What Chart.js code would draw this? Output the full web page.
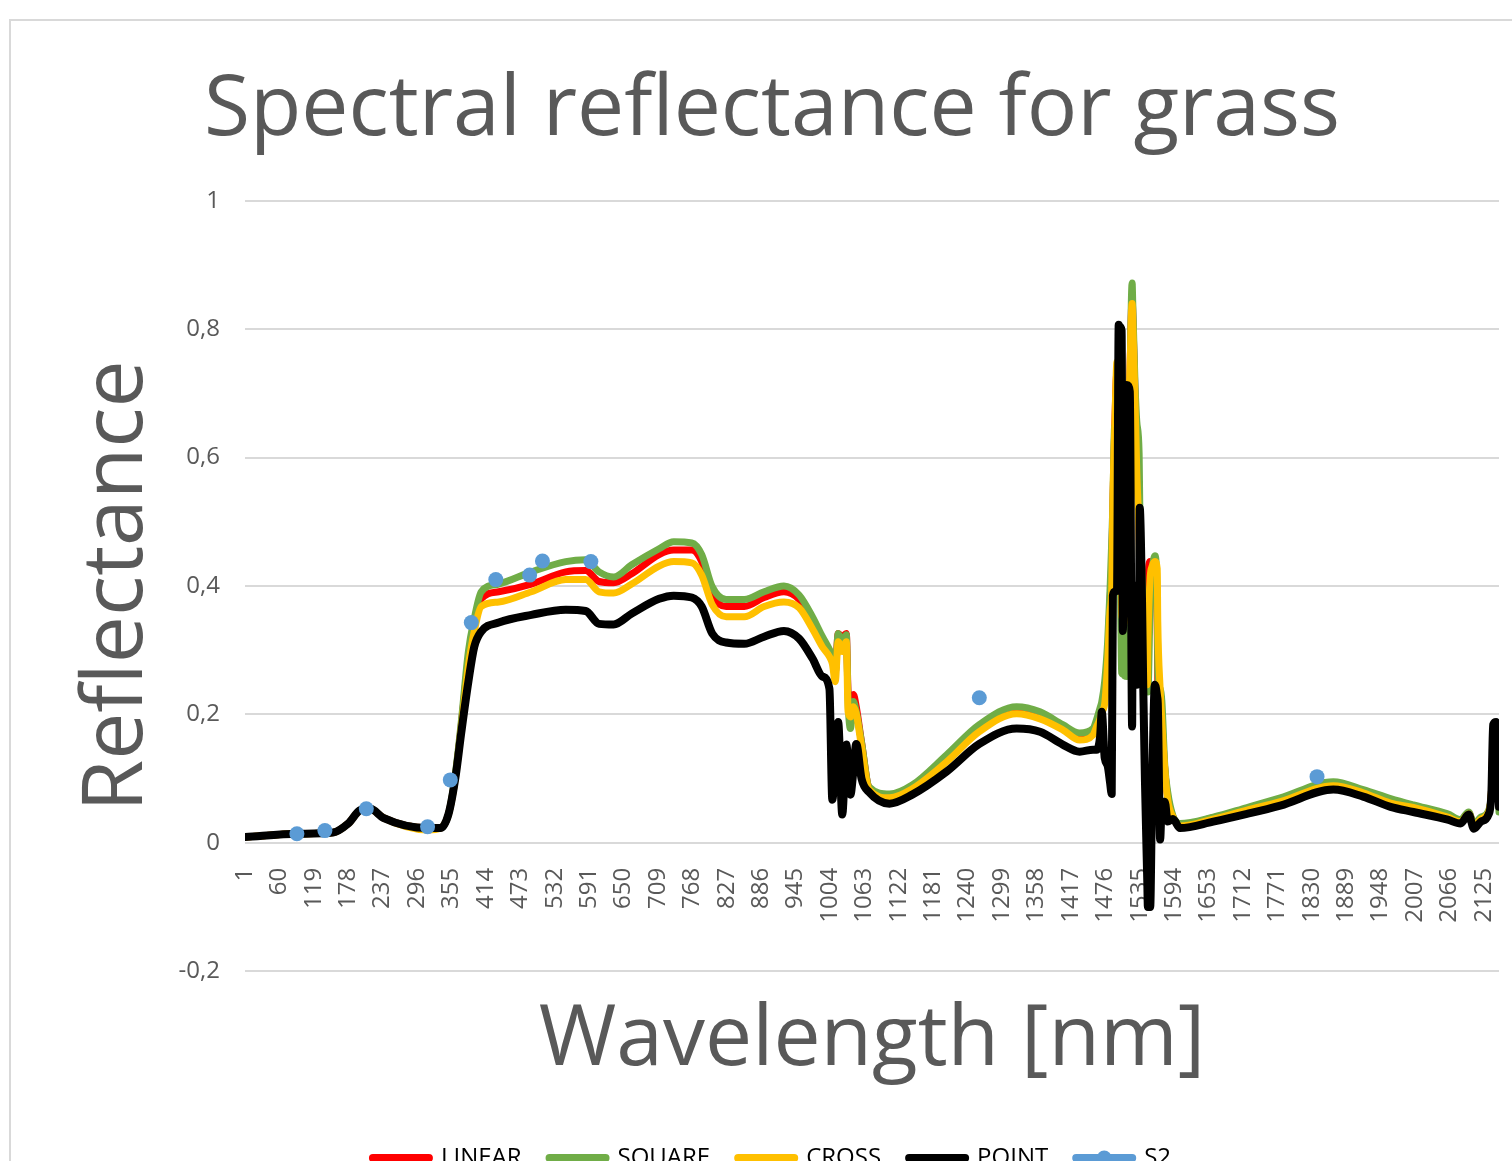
<!DOCTYPE html>
<html>
<head>
<meta charset="utf-8">
<title>Spectral reflectance for grass</title>
<script src="https://cdn.jsdelivr.net/npm/chart.js@4.4.1/dist/chart.umd.min.js"></script>
<style>
  html, body { margin: 0; padding: 0; background: #fff; overflow: hidden; width: 1512px; height: 1161px; }
  #frame { position: absolute; left: 9px; top: 19px; border: 2px solid #d9d9d9; background: #fff; }
  #chart { display: block; }
</style>
</head>
<body>
<div id="frame"><canvas id="chart" width="1522" height="1159"></canvas></div>
<script>
// Channel index of every sampled point (same for the four simulated spectra)
const bands = [
  1, 92, 152, 178, 199, 216, 238, 315, 336, 350,
  362, 372, 384, 394, 406, 436, 492, 551, 585, 608,
  633, 664, 711, 736, 767, 784, 802, 826, 857, 891,
  925, 951, 974, 991, 1003, 1008, 1013, 1018, 1025, 1032,
  1035, 1039, 1044, 1049, 1058, 1071, 1106, 1145, 1204, 1260,
  1324, 1364, 1403, 1432, 1455, 1461, 1467, 1470, 1475, 1480,
  1484, 1487, 1489, 1492, 1496, 1499, 1501, 1504, 1506, 1509,
  1513, 1518, 1522, 1523, 1527, 1530, 1534, 1535, 1539, 1541,
  1544, 1548, 1549, 1553, 1556, 1561, 1565, 1566, 1570, 1573,
  1578, 1583, 1592, 1604, 1661, 1719, 1776, 1867, 1918, 1965,
  2004, 2063, 2085, 2099, 2108, 2120, 2133, 2138, 2141, 2146,
  2151,
]

const linear = [
  0.009, 0.014, 0.016, 0.030, 0.051, 0.053, 0.039, 0.023, 0.023, 0.045,
  0.105, 0.185, 0.285, 0.336, 0.380, 0.391, 0.403, 0.422, 0.424, 0.407,
  0.405, 0.419, 0.449, 0.456, 0.456, 0.438, 0.386, 0.368, 0.368, 0.382,
  0.391, 0.379, 0.344, 0.313, 0.298, 0.285, 0.266, 0.326, 0.321, 0.326,
  0.235, 0.220, 0.231, 0.212, 0.157, 0.086, 0.073, 0.087, 0.132, 0.179,
  0.207, 0.199, 0.181, 0.167, 0.172, 0.185, 0.201, 0.212, 0.235, 0.282,
  0.375, 0.436, 0.523, 0.640, 0.734, 0.687, 0.656, 0.375, 0.360, 0.343,
  0.609, 0.726, 0.850, 0.827, 0.695, 0.593, 0.500, 0.438, 0.344, 0.313,
  0.266, 0.246, 0.407, 0.438, 0.430, 0.430, 0.344, 0.251, 0.220, 0.188,
  0.114, 0.072, 0.040, 0.028, 0.039, 0.053, 0.067, 0.092, 0.080, 0.065,
  0.056, 0.042, 0.034, 0.047, 0.028, 0.039, 0.048, 0.079, 0.157, 0.134,
  0.064,
]

const square = [
  0.009, 0.014, 0.016, 0.030, 0.051, 0.053, 0.039, 0.023, 0.023, 0.045,
  0.110, 0.190, 0.298, 0.349, 0.391, 0.403, 0.422, 0.438, 0.441, 0.422,
  0.414, 0.433, 0.458, 0.469, 0.467, 0.449, 0.399, 0.379, 0.379, 0.391,
  0.400, 0.386, 0.352, 0.321, 0.301, 0.290, 0.266, 0.326, 0.313, 0.324,
  0.220, 0.178, 0.220, 0.204, 0.157, 0.087, 0.076, 0.090, 0.137, 0.184,
  0.212, 0.204, 0.184, 0.171, 0.178, 0.192, 0.210, 0.220, 0.252, 0.313,
  0.391, 0.469, 0.528, 0.648, 0.617, 0.593, 0.500, 0.265, 0.263, 0.260,
  0.259, 0.687, 0.872, 0.843, 0.713, 0.656, 0.606, 0.531, 0.414, 0.375,
  0.294, 0.246, 0.235, 0.375, 0.421, 0.447, 0.375, 0.265, 0.240, 0.220,
  0.120, 0.079, 0.042, 0.030, 0.040, 0.055, 0.070, 0.095, 0.083, 0.069,
  0.059, 0.045, 0.036, 0.048, 0.030, 0.040, 0.050, 0.079, 0.150, 0.126,
  0.048,
]

const cross = [
  0.009, 0.014, 0.016, 0.030, 0.051, 0.053, 0.039, 0.020, 0.023, 0.045,
  0.103, 0.180, 0.275, 0.329, 0.368, 0.375, 0.391, 0.410, 0.410, 0.391,
  0.389, 0.403, 0.431, 0.438, 0.436, 0.417, 0.371, 0.352, 0.352, 0.368,
  0.375, 0.366, 0.333, 0.305, 0.290, 0.279, 0.251, 0.313, 0.298, 0.313,
  0.204, 0.196, 0.212, 0.201, 0.150, 0.083, 0.070, 0.084, 0.126, 0.173,
  0.201, 0.193, 0.176, 0.160, 0.168, 0.181, 0.193, 0.204, 0.217, 0.282,
  0.360, 0.396, 0.533, 0.640, 0.749, 0.687, 0.654, 0.355, 0.349, 0.343,
  0.609, 0.726, 0.840, 0.812, 0.687, 0.578, 0.475, 0.422, 0.329, 0.294,
  0.266, 0.246, 0.313, 0.414, 0.430, 0.438, 0.427, 0.344, 0.240, 0.188,
  0.115, 0.067, 0.040, 0.026, 0.037, 0.051, 0.064, 0.089, 0.078, 0.062,
  0.055, 0.040, 0.033, 0.045, 0.026, 0.037, 0.048, 0.079, 0.154, 0.130,
  0.056,
]

const point = [
  0.009, 0.014, 0.016, 0.030, 0.051, 0.053, 0.039, 0.023, 0.023, 0.045,
  0.103, 0.173, 0.251, 0.305, 0.329, 0.343, 0.355, 0.363, 0.361, 0.341,
  0.340, 0.357, 0.380, 0.385, 0.382, 0.368, 0.326, 0.312, 0.310, 0.321,
  0.330, 0.318, 0.287, 0.259, 0.240, 0.067, 0.126, 0.188, 0.044, 0.153,
  0.126, 0.075, 0.111, 0.154, 0.100, 0.079, 0.061, 0.075, 0.111, 0.154,
  0.178, 0.173, 0.153, 0.142, 0.145, 0.145, 0.165, 0.204, 0.132, 0.120,
  0.095, 0.076, 0.385, 0.391, 0.396, 0.807, 0.804, 0.798, 0.330, 0.531,
  0.713, 0.703, 0.181, 0.402, 0.313, 0.246, 0.375, 0.522, 0.375, 0.246,
  0.095, -0.061, -0.100, -0.100, 0.064, 0.246, 0.227, 0.217, 0.005, 0.064,
  0.064, 0.033, 0.037, 0.023, 0.033, 0.045, 0.058, 0.083, 0.072, 0.056,
  0.048, 0.036, 0.030, 0.044, 0.022, 0.033, 0.044, 0.079, 0.184, 0.188,
  0.056,
]

// Sentinel-2 band samples
const s2Bands = [90, 138, 209, 314, 353, 389, 431, 489, 511, 594, 1260, 1839]
const s2Values = [0.014, 0.019, 0.053, 0.025, 0.098, 0.343, 0.410, 0.417, 0.439, 0.438, 0.226, 0.103]

const xTicks = [
  1, 60, 119, 178, 237, 296, 355, 414, 473, 532, 591, 650, 709, 768, 827, 886, 945, 1004, 1063,
  1122, 1181, 1240, 1299, 1358, 1417, 1476, 1535, 1594, 1653, 1712, 1771, 1830, 1889, 1948,
  2007, 2066, 2125,
]
const yTicks = [-0.2, 0, 0.2, 0.4, 0.6, 0.8, 1]

const textColor = "#595959"
const gridColor = "#d9d9d9"
const s2Color = "#5b9bd5"
const legendLine = 56
const legendFont = 24

Chart.defaults.font.family = "'Open Sans', 'Noto Sans', sans-serif"

function toPoints(values) {
  return bands.map((b, i) => ({ x: b, y: values[i] }))
}

function lineSet(label, values, color, width, order) {
  return {
    label,
    data: toPoints(values),
    borderColor: color,
    backgroundColor: color,
    borderWidth: width,
    borderCapStyle: "round",
    borderJoinStyle: "round",
    pointRadius: 0,
    pointHoverRadius: 0,
    cubicInterpolationMode: "monotone",
    fill: false,
    order,
    xAxisID: "x",
    yAxisID: "y",
  }
}

// draws the round marker on the S2 legend line
const legendMarker = {
  id: "legendMarker",
  afterDraw(chart) {
    const legend = chart.legend
    if (!legend || !legend.legendItems) return
    legend.legendItems.forEach((item, i) => {
      if (item.text !== "S2") return
      const box = legend.legendHitBoxes[i]
      const ctx = chart.ctx
      ctx.save()
      ctx.fillStyle = s2Color
      ctx.beginPath()
      ctx.arc(box.left + legendLine / 2, box.top + legendFont / 2, 7.5, 0, Math.PI * 2)
      ctx.fill()
      ctx.restore()
    })
  },
}

new Chart(document.getElementById("chart"), {
  type: "line",
  data: {
    datasets: [
      lineSet("LINEAR", linear, "#ff0000", 7, 4),
      lineSet("SQUARE", square, "#70ad47", 7, 3),
      lineSet("CROSS", cross, "#ffc000", 7, 2),
      lineSet("POINT", point, "#000000", 8, 1),
      {
        label: "S2",
        data: s2Bands.map((b, i) => ({ x: b, y: s2Values[i] })),
        showLine: false,
        borderColor: s2Color,
        backgroundColor: s2Color,
        borderWidth: 7,
        pointStyle: "circle",
        pointRadius: 7.5,
        pointBorderWidth: 0,
        pointHoverRadius: 7.5,
        order: 0,
        xAxisID: "x",
        yAxisID: "y",
      },
    ],
  },
  options: {
    responsive: false,
    devicePixelRatio: 1,
    animation: false,
    events: [],
    layout: { padding: 0 },
    plugins: {
      tooltip: { enabled: false },
      title: {
        display: true,
        text: "Spectral reflectance for grass",
        color: textColor,
        font: { size: 84, weight: "normal" },
        padding: { top: 40, bottom: 39 },
      },
      subtitle: {
        display: true,
        position: "bottom",
        fullSize: false,
        text: "Wavelength [nm]",
        color: textColor,
        font: { size: 84, weight: "normal" },
        padding: { top: 19, bottom: 27 },
      },
      legend: {
        position: "bottom",
        weight: 3000,
        labels: {
          usePointStyle: true,
          pointStyleWidth: legendLine,
          padding: 28,
          color: textColor,
          font: { size: legendFont },
          generateLabels(chart) {
            return chart.data.datasets.map((ds, i) => ({
              text: ds.label,
              datasetIndex: i,
              fillStyle: ds.borderColor,
              strokeStyle: ds.borderColor,
              lineWidth: 8,
              lineCap: "round",
              pointStyle: "line",
              hidden: false,
            }))
          },
        },
      },
    },
    scales: {
      x: {
        type: "linear",
        position: { y: 0 },
        min: 1,
        max: 2151,
        grid: { display: false },
        border: { display: false },
        afterBuildTicks: (scale) => {
          scale.ticks = xTicks.map((v) => ({ value: v }))
        },
        ticks: {
          autoSkip: false,
          minRotation: 90,
          maxRotation: 90,
          padding: 17,
          color: textColor,
          font: { size: 24 },
          callback: (v) => String(v),
        },
      },
      y: {
        type: "linear",
        position: "left",
        min: -0.2,
        max: 1,
        afterBuildTicks: (scale) => {
          scale.ticks = yTicks.map((v) => ({ value: v }))
        },
        afterFit: (scale) => {
          scale.width = 234
        },
        grid: { color: gridColor, lineWidth: 2, drawTicks: false },
        border: { display: false },
        ticks: {
          padding: 25,
          color: textColor,
          font: { size: 24 },
          callback: (v) => String(v).replace(".", ","),
        },
        title: {
          display: true,
          text: "Reflectance",
          color: textColor,
          font: { size: 84, weight: "normal" },
          padding: { top: 57, bottom: 0 },
        },
      },
      // empty right axis, only keeps the plot clear of the right edge
      yR: {
        type: "linear",
        position: "right",
        grid: { display: false },
        border: { display: false },
        ticks: { display: false },
        afterFit: (scale) => {
          scale.width = 34
        },
      },
    },
  },
  plugins: [legendMarker],
})
</script>
</body>
</html>
